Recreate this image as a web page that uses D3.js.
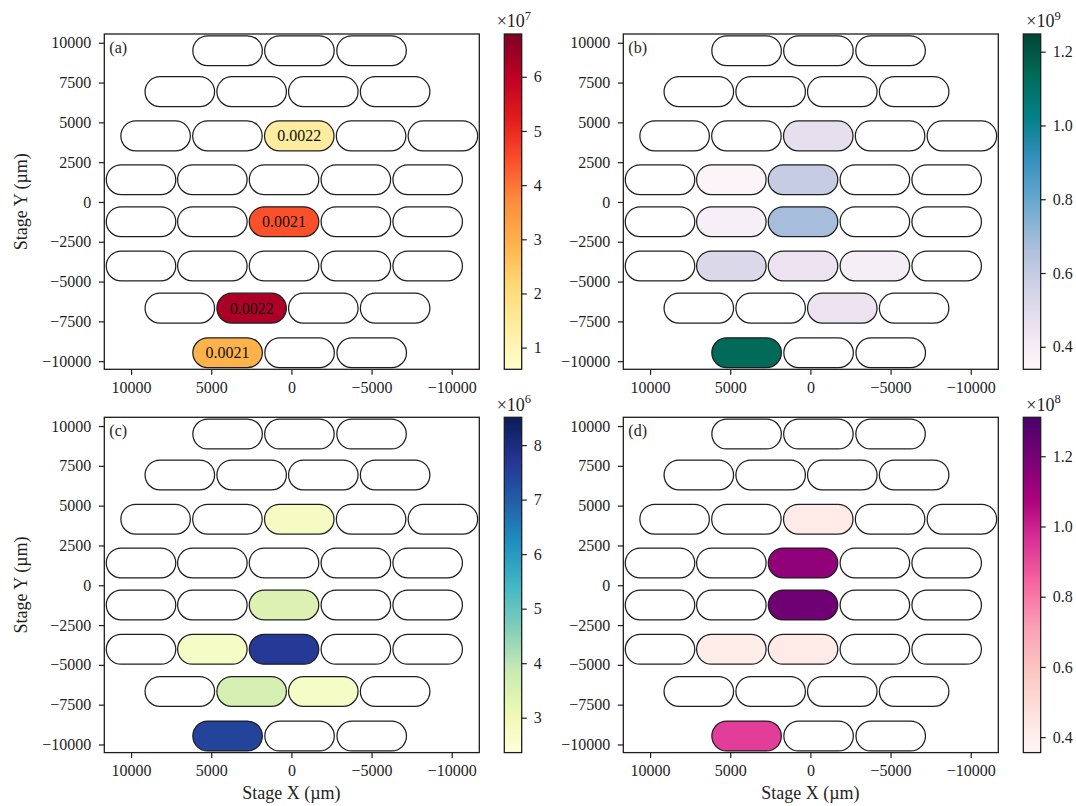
<!DOCTYPE html>
<html>
<head>
<meta charset="utf-8">
<script src="https://cdn.jsdelivr.net/npm/d3@7"></script>
<style>
  body { margin: 0; background: #ffffff; }
  svg { display: block; }
  svg text { font-family: "Liberation Serif", "Times New Roman", serif; }
</style>
</head>
<body>
<svg id="chart" width="1076" height="806"></svg>
<script>
// ---- Stage layout: stadium centres (µm), rows listed from top to bottom ----
const rowY = [9500, 6930, 4150, 1400, -1240, -4020, -6670, -9470];
const rowX = [
  [3980, -500, -5000],
  [6960, 2480, -1990, -6470],
  [8470, 3990, -490, -4970, -9450],
  [9380, 4930, 460, -4020, -8500],
  [9380, 4930, 460, -4020, -8500],
  [9380, 4930, 460, -4020, -8500],
  [6960, 2480, -1990, -6470],
  [3980, -510, -5010]
];

// ---- Measured cells per panel (index into the flattened slot list) ----
const cellsA  = [9, 19, 28, 31];
const valuesA = [1.40e7, 4.44e7, 6.23e7, 2.92e7];
const labelsA = ["0.0022", "0.0021", "0.0022", "0.0021"];

const cellsB  = [9, 13, 14, 18, 19, 23, 24, 25, 29, 31];
const valuesB = [0.475e9, 0.357e9, 0.594e9, 0.384e9, 0.680e9, 0.520e9, 0.453e9, 0.390e9, 0.448e9, 1.139e9];

const cellsC  = [9, 19, 23, 24, 28, 29, 31];
const valuesC = [2.79e6, 3.47e6, 2.73e6, 7.65e6, 3.59e6, 2.73e6, 7.46e6];

const cellsD  = [9, 14, 19, 23, 24, 31];
const valuesD = [0.42e8, 1.14e8, 1.215e8, 0.41e8, 0.42e8, 0.93e8];

// ---- Colour bar ranges and ticks ----
const cbarDomainA = [0.60e7, 6.79e7];
const cbarDomainB = [0.339e9, 1.248e9];
const cbarDomainC = [2.36e6, 8.51e6];
const cbarDomainD = [0.356e8, 1.311e8];
const cbarTicksA = [1, 2, 3, 4, 5, 6];
const cbarTicksB = [0.4, 0.6, 0.8, 1.0, 1.2];
const cbarTicksC = [3, 4, 5, 6, 7, 8];
const cbarTicksD = [0.4, 0.6, 0.8, 1.0, 1.2];

// ---- Axis ticks ----
const xTicks = [10000, 5000, 0, -5000, -10000];
const yTicks = [-10000, -7500, -5000, -2500, 0, 2500, 5000, 7500, 10000];
const xDomain = [11670, -11720];
const yDomain = [-10510, 10550];

// ---- Layout ----
const FONT = "'Liberation Serif', 'Times New Roman', serif";
const colLeft = [104.3, 623.3];
const rowTop = [34, 417.3];
const axW = 375, axH = 335.3;
const cbGap = 400, cbW = 17.4;
const stadW = 4410, stadH = 1950;   // stadium outer size in stage units
const ink = "#1e1e1e";

const slots = [];
rowY.forEach((y, r) => rowX[r].forEach(x => slots.push({ x, y })));

const panels = [
  { tag: "(a)", col: 0, row: 0, cells: cellsA, values: valuesA, labels: labelsA,
    scheme: d3.schemeYlOrRd[9], domain: cbarDomainA, ticks: cbarTicksA, exp: 7, fmt: d3.format("d"), offDx: -7.6 },
  { tag: "(b)", col: 1, row: 0, cells: cellsB, values: valuesB, labels: null,
    scheme: d3.schemePuBuGn[9], domain: cbarDomainB, ticks: cbarTicksB, exp: 9, fmt: d3.format(".1f"), offDx: 3 },
  { tag: "(c)", col: 0, row: 1, cells: cellsC, values: valuesC, labels: null,
    scheme: d3.schemeYlGnBu[9], domain: cbarDomainC, ticks: cbarTicksC, exp: 6, fmt: d3.format("d"), offDx: -7.6 },
  { tag: "(d)", col: 1, row: 1, cells: cellsD, values: valuesD, labels: null,
    scheme: d3.schemeRdPu[9], domain: cbarDomainD, ticks: cbarTicksD, exp: 8, fmt: d3.format(".1f"), offDx: 3 }
];

const svg = d3.select("#chart").attr("font-family", FONT);
svg.append("rect").attr("width", 1076).attr("height", 806).attr("fill", "#ffffff");
const defs = svg.append("defs");

const xs = d3.scaleLinear().domain(xDomain).range([0, axW]);
const ys = d3.scaleLinear().domain(yDomain).range([axH, 0]);
const wPx = Math.abs(xs(stadW) - xs(0));
const hPx = Math.abs(ys(stadH) - ys(0));

// serif tick labels, dark tick marks, no d3 domain path (the frame is drawn separately)
function styleAxis(a) {
  a.attr("font-family", FONT).attr("font-size", 16);
  a.select(".domain").remove();
  a.selectAll("line").attr("stroke", ink).attr("stroke-width", 1.2);
  a.selectAll("text")
    .attr("font-family", FONT)
    .style("font-family", FONT)
    .attr("font-size", 16)
    .attr("fill", ink);
}

panels.forEach((p, i) => {
  const ox = colLeft[p.col], oy = rowTop[p.row];
  const g = svg.append("g").attr("transform", `translate(${ox},${oy})`);

  // colour mapping (piecewise-linear through the 9-class scheme)
  const interp = d3.piecewise(d3.interpolateRgb, p.scheme);
  const color = d3.scaleSequential(interp).domain(p.domain);
  const valueBySlot = new Map(p.cells.map((c, k) => [c, p.values[k]]));
  const labelBySlot = new Map(p.labels ? p.cells.map((c, k) => [c, p.labels[k]]) : []);

  // clip to the plotting area
  const clipId = "clip" + i;
  defs.append("clipPath").attr("id", clipId)
    .append("rect").attr("width", axW).attr("height", axH);

  const plot = g.append("g").attr("clip-path", `url(#${clipId})`);
  plot.selectAll("rect.stadium")
    .data(slots.map((s, k) => ({ ...s, k, v: valueBySlot.get(k) })))
    .join("rect")
    .attr("class", "stadium")
    .attr("x", d => xs(d.x) - wPx / 2 + 0.6)
    .attr("y", d => ys(d.y) - hPx / 2 + 0.6)
    .attr("width", wPx - 1.2)
    .attr("height", hPx - 1.2)
    .attr("rx", (hPx - 1.2) / 2)
    .attr("ry", (hPx - 1.2) / 2)
    .attr("fill", d => d.v == null ? "#ffffff" : color(d.v))
    .attr("stroke", ink)
    .attr("stroke-width", 1.25);

  plot.selectAll("text.cell")
    .data(slots.map((s, k) => ({ ...s, k, t: labelBySlot.get(k) })).filter(d => d.t))
    .join("text")
    .attr("class", "cell")
    .attr("x", d => xs(d.x))
    .attr("y", d => ys(d.y))
    .attr("dy", "0.35em")
    .attr("text-anchor", "middle")
    .attr("font-size", 16)
    .attr("fill", "#111")
    .text(d => d.t);

  // axes
  const xAxis = g.append("g").attr("transform", `translate(0,${axH})`)
    .call(d3.axisBottom(xs).tickValues(xTicks).tickFormat(d3.format("d")).tickSize(5.5).tickSizeOuter(0).tickPadding(7));
  const yAxis = g.append("g")
    .call(d3.axisLeft(ys).tickValues(yTicks).tickFormat(d3.format("d")).tickSize(5.5).tickSizeOuter(0).tickPadding(7.5));
  styleAxis(xAxis);
  styleAxis(yAxis);

  g.append("rect").attr("width", axW).attr("height", axH)
    .attr("fill", "none").attr("stroke", ink).attr("stroke-width", 1.3);

  g.append("text").attr("x", 5).attr("y", 18.5)
    .attr("font-size", 16).attr("fill", ink).text(p.tag);

  // colour bar
  const gradId = "grad" + i;
  const grad = defs.append("linearGradient").attr("id", gradId)
    .attr("x1", 0).attr("y1", 1).attr("x2", 0).attr("y2", 0);
  d3.range(0, 1.0001, 0.02).forEach(t => {
    grad.append("stop").attr("offset", t).attr("stop-color", interp(t));
  });
  const cb = g.append("g").attr("transform", `translate(${cbGap},0)`);
  cb.append("rect").attr("width", cbW).attr("height", axH).attr("fill", `url(#${gradId})`);
  const cs = d3.scaleLinear().domain(p.domain.map(v => v / Math.pow(10, p.exp))).range([axH, 0]);
  const cAxis = cb.append("g").attr("transform", `translate(${cbW},0)`)
    .call(d3.axisRight(cs).tickValues(p.ticks).tickFormat(p.fmt).tickSize(5).tickSizeOuter(0).tickPadding(7));
  styleAxis(cAxis);
  cb.append("rect").attr("width", cbW).attr("height", axH)
    .attr("fill", "none").attr("stroke", ink).attr("stroke-width", 1.3);

  const off = cb.append("text").attr("x", p.offDx).attr("y", -6.7).attr("font-size", 18).attr("fill", ink);
  off.append("tspan").text("×10");
  off.append("tspan").attr("dy", -7.5).attr("font-size", 12.5).text(p.exp);

  // axis titles on the outer edges only
  if (p.col === 0) {
    g.append("text")
      .attr("transform", `translate(${26.5 - ox},${axH / 2}) rotate(-90)`)
      .attr("text-anchor", "middle").attr("font-size", 18).attr("fill", ink)
      .text("Stage Y (µm)");
  }
  if (p.row === 1) {
    g.append("text")
      .attr("x", xs(0)).attr("y", 799 - oy)
      .attr("text-anchor", "middle").attr("font-size", 18).attr("fill", ink)
      .text("Stage X (µm)");
  }
});
</script>
</body>
</html>
